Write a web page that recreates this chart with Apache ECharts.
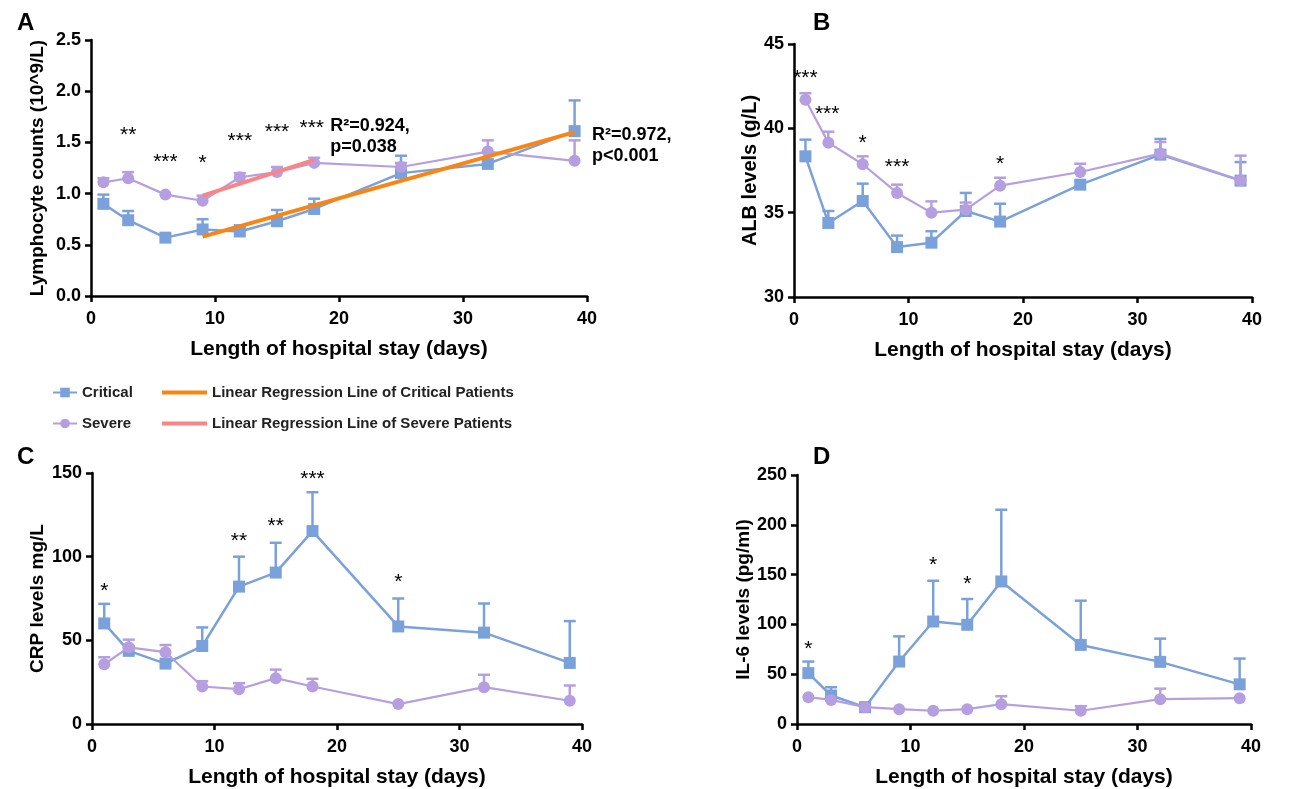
<!DOCTYPE html>
<html><head><meta charset="utf-8">
<script src="https://cdn.jsdelivr.net/npm/echarts@6/dist/echarts.min.js"></script>
<style>html,body{margin:0;padding:0;background:#fff}#c{width:1310px;height:789px}</style>
</head><body><div id="c"></div>
<script>
const days = [1, 3, 6, 9, 12, 15, 18, 25, 32, 39];

// Panel A: Lymphocyte counts
const lymCrit    = [0.90, 0.74, 0.57, 0.65, 0.63, 0.73, 0.85, 1.20, 1.29, 1.61];
const lymCritTop = [0.99, 0.83, 0.57, 0.75, 0.69, 0.84, 0.95, 1.37, 1.29, 1.91];
const lymSev     = [1.11, 1.15, 0.99, 0.93, 1.16, 1.21, 1.30, 1.26, 1.41, 1.32];
const lymSevTop  = [1.15, 1.21, 0.99, 0.98, 1.20, 1.26, 1.35, 1.30, 1.52, 1.52];
const regCrit = [[9, 0.58], [39, 1.60]];
const regSev  = [[9, 0.98], [18, 1.33]];
const starsA = [[3, 1.57, '**'], [6, 1.31, '***'], [9, 1.30, '*'], [12, 1.51, '***'], [15, 1.60, '***'], [17.8, 1.64, '***']];
const statsA = [[19.3, 1.56, 'R²=0.924,\np=0.038'], [40.4, 1.47, 'R²=0.972,\np<0.001']];

// Panel B: ALB levels
const albCrit    = [38.34, 34.39, 35.69, 32.96, 33.22, 35.10, 34.47, 36.66, 38.44, 36.90];
const albCritTop = [39.33, 35.10, 36.72, 33.64, 33.90, 36.17, 35.53, 36.90, 39.37, 38.00];
const albSev     = [41.70, 39.15, 37.87, 36.17, 35.00, 35.18, 36.60, 37.41, 38.50, 36.92];
const albSevTop  = [42.08, 39.80, 38.34, 36.66, 35.67, 35.60, 37.07, 37.90, 39.19, 38.38];
const starsB = [[1, 43.0, '***'], [2.9, 40.85, '***'], [6, 39.1, '*'], [9, 37.7, '***'], [18, 37.85, '*']];

// Panel C: CRP levels
const crpCrit    = [60.1, 43.7, 36.1, 46.6, 82.1, 90.5, 115.3, 58.3, 54.6, 36.5];
const crpCritTop = [71.8, 45.5, 36.1, 57.7, 100.0, 108.3, 138.5, 75.0, 72.0, 61.5];
const crpSev     = [35.7, 45.8, 42.9, 22.4, 20.8, 27.4, 22.4, 11.9, 22.0, 13.9];
const crpSevTop  = [39.9, 50.4, 47.2, 25.6, 24.4, 32.5, 27.0, 11.9, 29.4, 23.0];
const starsC = [[1, 79.5, '*'], [12, 109.5, '**'], [15, 118, '**'], [18, 146, '***'], [25, 84.5, '*']];

// Panel D: IL-6 levels
const il6Crit    = [51.1, 28.6, 16.9, 62.7, 102.9, 99.6, 143.1, 79.4, 62.4, 39.8];
const il6CritTop = [62.7, 36.9, 16.9, 88.0, 143.8, 125.5, 215.1, 123.8, 85.7, 65.7];
const il6Sev     = [26.9, 24.2, 16.9, 14.9, 13.3, 14.9, 19.9, 13.3, 24.9, 25.9];
const il6SevTop  = [26.9, 24.2, 16.9, 14.9, 13.3, 14.9, 27.9, 17.9, 35.5, 25.9];
const starsD = [[1, 75, '*'], [12, 159, '*'], [15, 140, '*']];

const C_CRIT = '#7BA1DA';
const C_SEV = '#B59FE0';
const C_REGC = '#FB8512';
const C_REGS = '#F98585';
const FONT = 'Liberation Sans, Arial, sans-serif';

const grids = [
  {left: 91, top: 40, width: 496, height: 256},
  {left: 794, top: 44, width: 458, height: 253},
  {left: 92, top: 473, width: 490, height: 252},
  {left: 797, top: 475, width: 454, height: 251}
];
const yCfg = [
  {min: 0, max: 2.5, interval: 0.5, name: 'Lymphocyte counts (10^9/L)', gap: 44, size: 19, fmt: v => v.toFixed(1)},
  {min: 30, max: 45, interval: 5, name: 'ALB levels (g/L)', gap: 34, size: 20, fmt: v => v},
  {min: 0, max: 150, interval: 50, name: 'CRP levels mg/L', gap: 45, size: 19, fmt: v => v},
  {min: 0, max: 250, interval: 50, name: 'IL-6 levels (pg/ml)', gap: 44, size: 19, fmt: v => v}
];

const axisLine = {lineStyle: {color: '#000', width: 2.5}};
const axisTick = {length: 6, lineStyle: {color: '#000', width: 2.5}};
const axisLabel = {color: '#000', fontSize: 18, fontWeight: 'bold', fontFamily: FONT, margin: 10};

const xAxes = grids.map((g, i) => ({
  type: 'value', gridIndex: i, min: 0, max: 40, interval: 10,
  axisLine, axisTick, axisLabel: Object.assign({}, axisLabel, {margin: 14}),
  splitLine: {show: false},
  name: 'Length of hospital stay (days)', nameLocation: 'middle', nameGap: 43, nameMoveOverlap: false,
  nameTextStyle: {color: '#000', fontSize: 21, fontWeight: 'bold', fontFamily: FONT}
}));
const yAxes = yCfg.map((c, i) => ({
  type: 'value', gridIndex: i, min: c.min, max: c.max, interval: c.interval,
  axisLine: Object.assign({show: true}, axisLine), axisTick: Object.assign({show: true}, axisTick),
  axisLabel: Object.assign({}, axisLabel, {formatter: c.fmt}),
  splitLine: {show: false},
  name: c.name, nameLocation: 'middle', nameGap: c.gap, nameMoveOverlap: false,
  nameTextStyle: {color: '#000', fontSize: c.size, fontWeight: 'bold', fontFamily: FONT}
}));

function zip(xs, ys) { return xs.map((x, i) => [x, ys[i]]); }
function zip3(xs, ys, ts) { return xs.map((x, i) => [x, ys[i], ts[i]]); }

function errSeries(idx, mean, top, color) {
  return {
    type: 'custom', xAxisIndex: idx, yAxisIndex: idx, z: 1,
    data: zip3(days, mean, top),
    renderItem: function (params, api) {
      const p0 = api.coord([api.value(0), api.value(1)]);
      const p1 = api.coord([api.value(0), api.value(2)]);
      if (Math.abs(p0[1] - p1[1]) < 1) return {type: 'group', children: []};
      return {type: 'group', children: [
        {type: 'line', shape: {x1: p0[0], y1: p0[1], x2: p1[0], y2: p1[1]}, style: {stroke: color, lineWidth: 2.5}},
        {type: 'line', shape: {x1: p1[0] - 6, y1: p1[1], x2: p1[0] + 6, y2: p1[1]}, style: {stroke: color, lineWidth: 2.5}}
      ]};
    },
    silent: true
  };
}
function critLine(idx, data) {
  return {type: 'line', name: 'Critical', xAxisIndex: idx, yAxisIndex: idx, z: 3,
    data: zip(days, data), symbol: 'rect', symbolSize: 12,
    lineStyle: {color: C_CRIT, width: 2.5}, itemStyle: {color: C_CRIT}};
}
function sevLine(idx, data) {
  return {type: 'line', name: 'Severe', xAxisIndex: idx, yAxisIndex: idx, z: 4,
    data: zip(days, data), symbol: 'circle', symbolSize: 12,
    lineStyle: {color: C_SEV, width: 2.2}, itemStyle: {color: C_SEV}};
}
function starSeries(idx, stars) {
  return {type: 'scatter', xAxisIndex: idx, yAxisIndex: idx, symbolSize: 0, z: 6, silent: true, clip: false,
    data: stars, itemStyle: {opacity: 1, color: '#000'},
    label: {show: true, position: 'inside', formatter: p => p.data[2], color: '#000', opacity: 1,
      textBorderWidth: 0, fontSize: 21, fontFamily: FONT}};
}

const series = [
  errSeries(0, lymCrit, lymCritTop, C_CRIT),
  errSeries(0, lymSev, lymSevTop, C_SEV),
  critLine(0, lymCrit), sevLine(0, lymSev),
  {type: 'line', name: 'Linear Regression Line of Critical Patients', xAxisIndex: 0, yAxisIndex: 0, z: 5,
    data: regCrit, symbol: 'none', lineStyle: {color: C_REGC, width: 4}, itemStyle: {color: C_REGC}},
  {type: 'line', name: 'Linear Regression Line of Severe Patients', xAxisIndex: 0, yAxisIndex: 0, z: 5,
    data: regSev, symbol: 'none', lineStyle: {color: C_REGS, width: 4}, itemStyle: {color: C_REGS}},
  starSeries(0, starsA),
  {type: 'scatter', xAxisIndex: 0, yAxisIndex: 0, symbolSize: 0, z: 6, silent: true, clip: false, data: statsA,
    itemStyle: {opacity: 1, color: '#000'},
    label: {show: true, position: 'inside', align: 'left', formatter: p => p.data[2], color: '#000', opacity: 1,
      textBorderWidth: 0, fontSize: 18, fontWeight: 'bold', fontFamily: FONT, lineHeight: 21}},

  errSeries(1, albCrit, albCritTop, C_CRIT),
  errSeries(1, albSev, albSevTop, C_SEV),
  critLine(1, albCrit), sevLine(1, albSev),
  starSeries(1, starsB),

  errSeries(2, crpCrit, crpCritTop, C_CRIT),
  errSeries(2, crpSev, crpSevTop, C_SEV),
  critLine(2, crpCrit), sevLine(2, crpSev),
  starSeries(2, starsC),

  errSeries(3, il6Crit, il6CritTop, C_CRIT),
  errSeries(3, il6Sev, il6SevTop, C_SEV),
  critLine(3, il6Crit), sevLine(3, il6Sev),
  starSeries(3, starsD)
];

const legendText = {color: '#222', fontSize: 15, fontWeight: 'bold', fontFamily: FONT};
const option = {
  backgroundColor: '#fff',
  animation: false,
  textStyle: {fontFamily: FONT},
  title: [
    {text: 'A', left: 12, top: 6},
    {text: 'B', left: 808, top: 6},
    {text: 'C', left: 12, top: 440},
    {text: 'D', left: 808, top: 440}
  ].map(t => Object.assign(t, {textStyle: {fontSize: 24, fontWeight: 'bold', color: '#000', fontFamily: FONT}})),
  legend: [
    {data: ['Critical', 'Severe'], orient: 'vertical', left: 47, top: 380, itemGap: 16,
      itemWidth: 24, itemHeight: 12, textStyle: legendText, selectedMode: false},
    {data: [{name: 'Linear Regression Line of Critical Patients', icon: 'rect'},
            {name: 'Linear Regression Line of Severe Patients', icon: 'rect'}],
      orient: 'vertical', left: 157, top: 380, itemGap: 16, itemWidth: 45, itemHeight: 4,
      textStyle: legendText, selectedMode: false}
  ],
  grid: grids,
  xAxis: xAxes,
  yAxis: yAxes,
  series: series
};
const chart = echarts.init(document.getElementById('c'), null, {renderer: 'canvas'});
chart.setOption(option);
</script>
</body></html>
